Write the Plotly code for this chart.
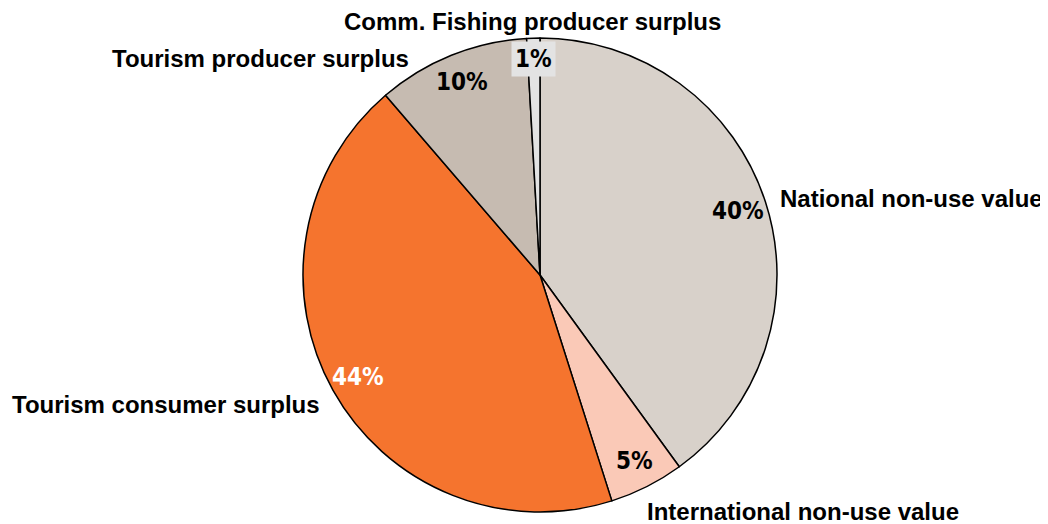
import plotly.graph_objects as go
import numpy as np

labels = ['National non-use value', 'International non-use value', 'Tourism consumer surplus',
          'Tourism producer surplus', 'Comm. Fishing producer surplus']
values = [40.0, 5.1, 43.6, 10.4, 0.9]
colors = ['#D8D1CA', '#FAC9B7', '#F5742E', '#C6BBB1', '#E3E3E3']
pct_colors = ['black', 'black', 'white', 'black', 'black']

# page has an 8px body margin, so positions below are in figure pixels (screen - 8)
name_pos = [(770, 190, 'left'), (637, 503, 'left'), (2, 396, 'left'),
            (403, 50, 'right'), (524, 13, 'center')]

W, H = 1048, 524
mt, mb = 30, 20
cx, cy, R = 532, 267, 237

def px2paper(x, y):
    return x / W, (H - mb - y) / (H - mt - mb)

fig = go.Figure()
fig.add_trace(go.Pie(labels=labels, values=values, sort=False, direction='clockwise',
                     marker=dict(colors=colors, line=dict(color='black', width=1.5)),
                     textinfo='none', showlegend=False,
                     domain=dict(x=[(cx - R) / W, (cx + R) / W], y=[0, 1])))

annotations = []
total = sum(values)
cum = 0
for v, c in zip(values, pct_colors):
    mid = (cum + v / 2) / total * 2 * np.pi
    cum += v
    small = v / total < 0.02
    rr = 0.91 * R if small else 0.88 * R
    x, y = px2paper(cx + rr * np.sin(mid), cy - rr * np.cos(mid))
    annotations.append(dict(x=x, y=y, xref='paper', yref='paper', showarrow=False,
                            xanchor='center', yanchor='middle',
                            text=f'{round(v / total * 100)}%',
                            bgcolor='#E3E3E3' if small else None, borderpad=3,
                            font=dict(family='DejaVu Sans Condensed, Liberation Sans Narrow, Liberation Sans',
                                      size=24, color=c, weight='bold')))

for lab, (x, y, xa) in zip(labels, name_pos):
    xp, yp = px2paper(x, y)
    annotations.append(dict(x=xp, y=yp, xref='paper', yref='paper', showarrow=False,
                            text=lab, xanchor=xa, yanchor='middle',
                            font=dict(family='Liberation Sans, Arial', size=24,
                                      color='black', weight='bold')))

fig.update_layout(width=W, height=H, margin=dict(l=0, r=0, t=mt, b=mb),
                  paper_bgcolor='white', plot_bgcolor='white', annotations=annotations)
fig.write_html('out.html')
